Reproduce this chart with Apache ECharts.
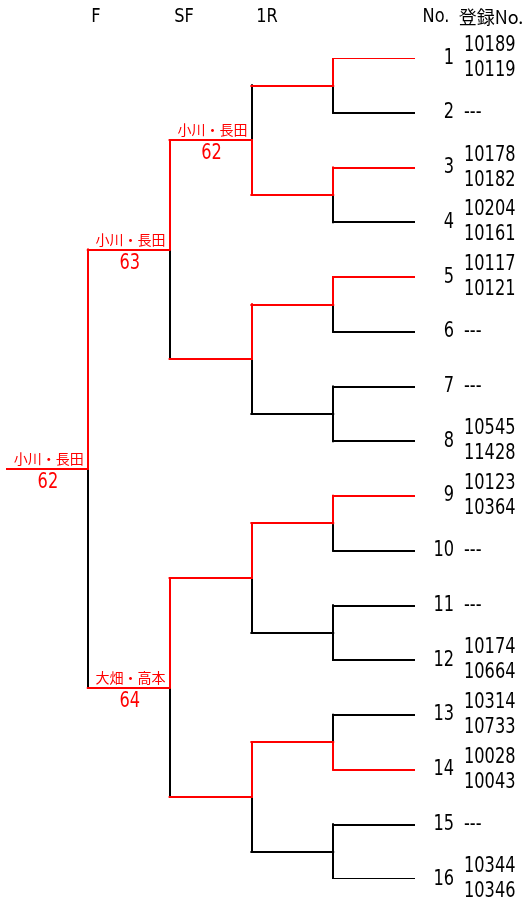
<!DOCTYPE html>
<html><head><meta charset="utf-8">
<script src="https://cdn.jsdelivr.net/npm/echarts@6/dist/echarts.min.js"></script>
<style>html,body{margin:0;padding:0;background:#fff}#c{width:526px;height:907px}</style>
</head><body><div id="c"></div>
<script>
// ---- data ----
const playerNo = [1,2,3,4,5,6,7,8,9,10,11,12,13,14,15,16];
const regA = ['10189','---','10178','10204','10117','---','---','10545','10123','---','---','10174','10314','10028','---','10344'];
const regB = ['10119','','10182','10161','10121','','','11428','10364','','','10664','10733','10043','','10346'];
// winner side per match: 1 = upper, 2 = lower, 0 = none highlighted
const r1Winner = [1,1,1,0,1,0,2,0];
const r2Winner = [2,1,1,1];
const sfWinner = [1,1];
const fWinner  = [1];
// result labels per match
const r2Names  = ['小川・長田','','',''];
const r2Scores = ['62','','',''];
const sfNames  = ['小川・長田','大畑・高本'];
const sfScores = ['63','64'];
const fNames   = ['小川・長田'];
const fScores  = ['62'];
const headerLabels = ['F','SF','1R','No.','登録No.'];

// ---- build ----
const RED = '#ff0000', BLACK = '#000000';
const NARROW = "'DejaVu Sans Condensed','Liberation Sans',sans-serif";
const CJK = "'Noto Sans CJK JP',sans-serif";
const segs = [];
const texts = [];
const leafLevel = 5;
playerNo.forEach((p, i) => {
  const red = r1Winner[Math.floor(i/2)] === (i % 2) + 1;
  segs.push({a:[leafLevel, p], b:[leafLevel-1, p], red});
});
const rounds = [
  {w:r1Winner, names:null, scores:null},
  {w:r2Winner, names:r2Names, scores:r2Scores},
  {w:sfWinner, names:sfNames, scores:sfScores},
  {w:fWinner,  names:fNames,  scores:fScores}
];
let ys = playerNo.slice();
rounds.forEach((r, k) => {
  const L = leafLevel - 1 - k;
  const next = [];
  r.w.forEach((w, m) => {
    const up = ys[2*m], lo = ys[2*m+1], mid = (up + lo) / 2;
    segs.push({a:[L, up], b:[L, mid], red: w === 1});
    segs.push({a:[L, mid], b:[L, lo], red: w === 2});
    segs.push({a:[L-1, mid], b:[L, mid], red: w !== 0});
    if (r.names && r.names[m]) {
      texts.push({x:L, y:mid, dx:-4, dy:-3, text:r.names[m], align:'right', va:'bottom', color:RED, size:14, family:CJK, sy:1});
      texts.push({x:L-0.5, y:mid, dx:1, dy:3, text:r.scores[m], align:'center', va:'top', color:RED, size:18, family:NARROW, sy:1.18});
    }
    next.push(mid);
  });
  ys = next;
});
segs.sort((s, t) => (s.red ? 1 : 0) - (t.red ? 1 : 0));

playerNo.forEach((p, i) => {
  texts.push({x:leafLevel, y:p, dx:39, dy:0, text:String(p), align:'right', va:'middle', color:BLACK, size:18, family:NARROW, sy:1.2});
  const txt = regB[i] ? regA[i] + '\n' + regB[i] : regA[i];
  texts.push({x:leafLevel, y:p, dx:49, dy:0, text:txt, align:'left', va:'middle', color:BLACK, size:18, family:NARROW, sy:1.2, lh:25});
});

const headerX = [96, 184, 267, 436, 491];
const graphic = headerLabels.map((t, i) => ({
  type:'text', x: headerX[i], y: 17, scaleY: i === 4 ? 1 : 1.1,
  style:{text:t, fill:BLACK, fontSize:18, fontFamily: (i === 4 ? CJK : NARROW), align:'center', verticalAlign:'middle'}
}));

const chart = echarts.init(document.getElementById('c'), null, {renderer:'canvas'});
chart.setOption({
  animation:false,
  backgroundColor:'#ffffff',
  grid:{left:6, right:111, top:58, bottom:28},
  xAxis:{type:'value', min:0, max:5, show:false},
  yAxis:{type:'value', min:1, max:16, inverse:true, show:false},
  graphic: graphic,
  series:[
    {type:'lines', coordinateSystem:'cartesian2d', polyline:false, silent:true, z:2,
     data: segs.map(s => ({coords:[s.a, s.b], lineStyle:{color: s.red ? RED : BLACK, width:2, opacity:1, cap:'square'}}))},
    {type:'custom', silent:true, z:3, clip:false,
     data: texts.map(t => [t.x, t.y]),
     renderItem: function (params, api) {
       const t = texts[params.dataIndex];
       const pt = api.coord([api.value(0), api.value(1)]);
       return {
         type:'text', x: pt[0] + t.dx, y: pt[1] + t.dy, scaleY: t.sy,
         style:{text:t.text, fill:t.color, fontSize:t.size, fontFamily:t.family,
                align:t.align, verticalAlign:t.va, lineHeight: t.lh ? t.lh / t.sy : undefined}
       };
     }}
  ]
});
</script></body></html>
